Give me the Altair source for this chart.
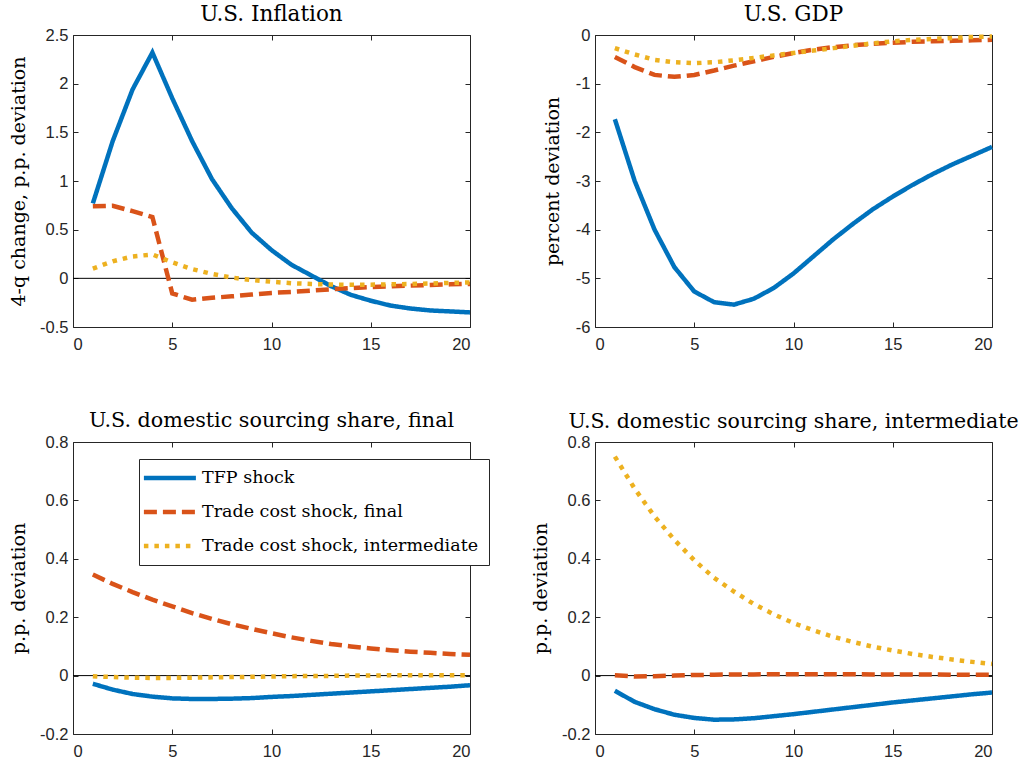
import altair as alt
import pandas as pd

# Impulse responses over a 20-quarter horizon
horizon = list(range(1, 21))
series_names = ["TFP shock", "Trade cost shock, final", "Trade cost shock, intermediate"]
series_colors = ["#0072BD", "#D95319", "#EDB120"]
series_dashes = [[1, 0], [13, 6], [4.5, 6]]
x_ticks = [0, 5, 10, 15, 20]

# U.S. inflation, 4-q change (p.p. deviation)
infl_tfp = [0.77, 1.41, 1.94, 2.32, 1.85, 1.41, 1.02, 0.72, 0.47, 0.29,
            0.14, 0.03, -0.08, -0.17, -0.23, -0.28, -0.31, -0.33, -0.34, -0.35]
infl_final = [0.74, 0.745, 0.69, 0.63, -0.155, -0.22, -0.20, -0.185, -0.167, -0.15,
              -0.14, -0.126, -0.113, -0.10, -0.09, -0.082, -0.075, -0.068, -0.062, -0.057]
infl_inter = [0.10, 0.175, 0.225, 0.245, 0.165, 0.095, 0.045, 0.008, -0.018, -0.035,
              -0.05, -0.058, -0.064, -0.066, -0.065, -0.062, -0.058, -0.053, -0.047, -0.042]

# U.S. GDP (percent deviation)
gdp_tfp = [-1.73, -3.00, -4.00, -4.77, -5.27, -5.49, -5.54, -5.42, -5.20, -4.90,
           -4.55, -4.20, -3.88, -3.58, -3.32, -3.08, -2.86, -2.66, -2.48, -2.30]
gdp_final = [-0.45, -0.66, -0.82, -0.86, -0.82, -0.73, -0.63, -0.54, -0.45, -0.37,
             -0.30, -0.25, -0.21, -0.18, -0.16, -0.14, -0.13, -0.12, -0.11, -0.10]
gdp_inter = [-0.27, -0.40, -0.51, -0.56, -0.58, -0.56, -0.52, -0.47, -0.42, -0.37,
             -0.32, -0.27, -0.22, -0.17, -0.13, -0.10, -0.08, -0.06, -0.04, -0.03]

# U.S. domestic sourcing share, final goods (p.p. deviation)
fin_tfp = [-0.028, -0.048, -0.063, -0.072, -0.078, -0.080, -0.080, -0.079, -0.077, -0.073,
           -0.070, -0.066, -0.062, -0.058, -0.054, -0.050, -0.046, -0.042, -0.038, -0.033]
fin_final = [0.346, 0.314, 0.286, 0.260, 0.237, 0.214, 0.194, 0.176, 0.160, 0.145,
             0.131, 0.119, 0.108, 0.100, 0.093, 0.087, 0.082, 0.078, 0.074, 0.071]
fin_inter = [-0.002, -0.005, -0.007, -0.008, -0.008, -0.007, -0.006, -0.005, -0.004, -0.003,
             -0.002, -0.001, -0.001, 0.0, 0.0, 0.001, 0.001, 0.001, 0.001, 0.001]

# U.S. domestic sourcing share, intermediate goods (p.p. deviation)
int_tfp = [-0.052, -0.090, -0.115, -0.134, -0.145, -0.151, -0.150, -0.146, -0.139, -0.132,
           -0.124, -0.116, -0.108, -0.100, -0.092, -0.085, -0.078, -0.071, -0.064, -0.058]
int_final = [0.001, -0.003, -0.002, 0.0, 0.002, 0.003, 0.004, 0.004, 0.005, 0.005,
             0.005, 0.005, 0.005, 0.004, 0.004, 0.004, 0.004, 0.003, 0.003, 0.003]
int_inter = [0.75, 0.64, 0.545, 0.465, 0.395, 0.335, 0.288, 0.245, 0.21, 0.18,
             0.155, 0.133, 0.115, 0.099, 0.086, 0.074, 0.064, 0.055, 0.047, 0.040]

PANEL_W = 397
PANEL_H = 292
TICK = 5
SERIF = "DejaVu Serif"


def make_frame(a, b, c):
    rows = []
    for name, vals in zip(series_names, (a, b, c)):
        for h, v in zip(horizon, vals):
            rows.append({"h": h, "value": v, "series": name})
    return pd.DataFrame(rows)


def panel(df, title, title_size, ydomain, yticks, ytitle, ytitle_x, legend=None, zero=True):
    xscale = alt.Scale(domain=[0, 20], nice=False, zero=False)
    yscale = alt.Scale(domain=ydomain, nice=False, zero=False)

    color = alt.Color("series:N", sort=series_names,
                      scale=alt.Scale(domain=series_names, range=series_colors),
                      legend=legend)
    dash = alt.StrokeDash("series:N", sort=series_names,
                          scale=alt.Scale(domain=series_names, range=series_dashes),
                          legend=legend)

    lines = alt.Chart(df).mark_line(strokeWidth=4.5, strokeCap="butt").encode(
        x=alt.X("h:Q", scale=xscale,
                axis=alt.Axis(values=x_ticks, title=None, offset=-TICK, tickSize=TICK,
                              labelPadding=9, labelExpr="datum.value + ''")),
        y=alt.Y("value:Q", scale=yscale,
                axis=alt.Axis(values=yticks, title=ytitle, offset=-TICK, tickSize=TICK,
                              labelPadding=5, labelExpr="datum.value + ''",
                              titleAngle=270, titleX=ytitle_x, titleY=PANEL_H / 2,
                              titleAlign="center", titleBaseline="alphabetic")),
        color=color,
        strokeDash=dash,
    )

    # inward ticks on the top and right edges of the box
    box_ticks = alt.Chart(df).mark_line(opacity=0).encode(
        x=alt.X("h:Q", scale=xscale,
                axis=alt.Axis(orient="top", values=x_ticks, labels=False, title=None,
                              offset=-TICK, tickSize=TICK)),
        y=alt.Y("value:Q", scale=yscale,
                axis=alt.Axis(orient="right", values=yticks, labels=False, title=None,
                              offset=-TICK, tickSize=TICK)),
        detail="series:N",
    )

    layers = []
    if zero:
        zero_line = alt.Chart(pd.DataFrame({"z": [0.0]})).mark_rule(
            color="black", strokeWidth=1
        ).encode(y=alt.Y("z:Q", scale=yscale, axis=None))
        layers.append(zero_line)
    layers += [lines, box_ticks]

    return alt.layer(*layers).resolve_axis(
        x="independent", y="independent"
    ).properties(
        width=PANEL_W, height=PANEL_H,
        title=alt.TitleParams(title, fontSize=title_size),
    )


# horizontal legend swatch: a short custom path scaled by the symbol size
legend_box = alt.Legend(
    title=None, orient="none", legendX=66, legendY=17, direction="vertical",
    fillColor="white", strokeColor="#262626", padding=10,
    symbolType="M-1.4,0H6.6", symbolSize=169, symbolStrokeWidth=4.5, symbolOffset=-5,
    labelFont=SERIF, labelFontSize=17.5, labelColor="black",
    labelLimit=500, labelOffset=40, rowPadding=16,
)

top_left = panel(make_frame(infl_tfp, infl_final, infl_inter),
                 "U.S. Inflation", 21.5, [-0.5, 2.5], [-0.5, 0, 0.5, 1, 1.5, 2, 2.5],
                 "4-q change, p.p. deviation", -54)
top_right = panel(make_frame(gdp_tfp, gdp_final, gdp_inter),
                  "U.S. GDP", 21.5, [-6, 0], [-6, -5, -4, -3, -2, -1, 0],
                  "percent deviation", -42, zero=False)
bottom_left = panel(make_frame(fin_tfp, fin_final, fin_inter),
                    "U.S. domestic sourcing share, final", 20.7, [-0.2, 0.8],
                    [-0.2, 0, 0.2, 0.4, 0.6, 0.8], "p.p. deviation", -54, legend=legend_box)
bottom_right = panel(make_frame(int_tfp, int_final, int_inter),
                     "U.S. domestic sourcing share, intermediate", 20.5, [-0.2, 0.8],
                     [-0.2, 0, 0.2, 0.4, 0.6, 0.8], "p.p. deviation", -54)

chart = alt.concat(
    top_left, top_right, bottom_left, bottom_right,
    columns=2, spacing={"row": 115, "column": 125}, bounds="flush",
).resolve_scale(
    x="independent", y="independent", color="independent", strokeDash="independent"
).properties(
    padding={"left": 8, "top": 3, "right": 0, "bottom": 0},
    background="white",
).configure_view(
    stroke="#262626", strokeWidth=1
).configure_axis(
    grid=False, domain=False,
    labelFont="Liberation Sans", labelFontSize=16.5, labelColor="#262626",
    tickColor="#262626", tickWidth=1,
    titleFont=SERIF, titleFontSize=19, titleFontWeight="normal", titleColor="black",
).configure_title(
    font=SERIF, fontWeight="normal", color="black",
    anchor="middle", frame="group", offset=2, baseline="alphabetic",
)

chart.save("out.html", embed_options={"renderer": "svg", "actions": False})
